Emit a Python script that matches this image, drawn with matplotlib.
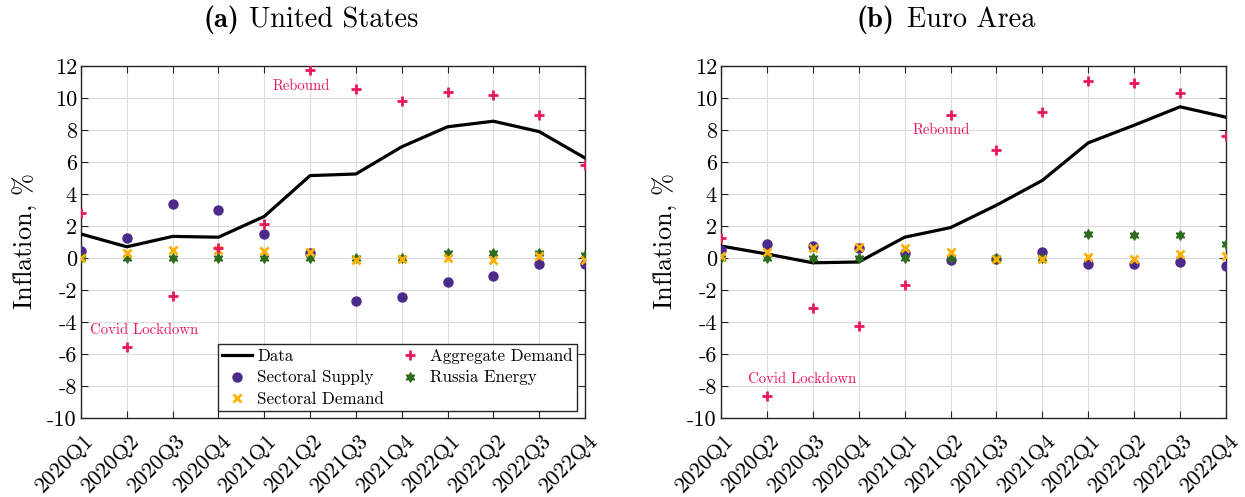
import numpy as np
import matplotlib
matplotlib.use("Agg")
import matplotlib.pyplot as plt
from matplotlib.transforms import ScaledTranslation

plt.rcParams["font.family"] = ["cmr10", "DejaVu Serif"]
plt.rcParams["mathtext.fontset"] = "cm"
plt.rcParams["axes.unicode_minus"] = False
plt.rcParams["axes.formatter.use_mathtext"] = False

quarters = ["2020Q1", "2020Q2", "2020Q3", "2020Q4",
            "2021Q1", "2021Q2", "2021Q3", "2021Q4",
            "2022Q1", "2022Q2", "2022Q3", "2022Q4"]

# United States
us_data = [1.5, 0.7, 1.35, 1.3, 2.6, 5.15, 5.25, 6.95, 8.2, 8.55, 7.9, 6.25]
us_agg_demand = [2.8, -5.55, -2.35, 0.6, 2.1, 11.75, 10.55, 9.8, 10.35, 10.2, 8.95, 5.8]
us_sec_supply = [0.45, 1.25, 3.4, 3.0, 1.5, 0.3, -2.7, -2.45, -1.5, -1.15, -0.4, -0.35]
us_sec_demand = [0.0, 0.3, 0.5, 0.5, 0.45, 0.35, -0.1, -0.05, 0.0, -0.1, 0.15, -0.1]
us_russia = [0.0, 0.0, 0.0, 0.0, 0.0, 0.0, 0.0, 0.0, 0.3, 0.3, 0.3, 0.2]

# Euro Area
ea_data = [0.75, 0.25, -0.3, -0.25, 1.3, 1.9, 3.3, 4.85, 7.2, 8.3, 9.45, 8.8]
ea_agg_demand = [1.25, -8.65, -3.1, -4.25, -1.7, 8.95, 6.75, 9.15, 11.05, 10.95, 10.3, 7.65]
ea_sec_supply = [0.5, 0.9, 0.75, 0.65, 0.3, -0.1, -0.05, 0.35, -0.35, -0.4, -0.25, -0.5]
ea_sec_demand = [0.1, 0.35, 0.65, 0.7, 0.6, 0.4, -0.05, -0.05, 0.05, -0.05, 0.25, 0.15]
ea_russia = [0.0, 0.0, 0.0, 0.0, 0.0, 0.0, 0.0, 0.0, 1.5, 1.45, 1.45, 0.85]

purple = "#4b2a8c"
red = "#e8185a"
yellow = "#ffb000"
green = "#2d6a1e"


def draw_panel(ax, data, agg, supply, demand, russia, notes, legend=False):
    x = np.arange(len(quarters))
    h_data, = ax.plot(x, data, color="black", lw=2.3, label="Data", zorder=3)
    h_ss, = ax.plot(x, supply, "o", color=purple, ms=6.5, ls="none",
                    label="Sectoral Supply", zorder=4)
    h_sd, = ax.plot(x, demand, "x", color=yellow, ms=5.5, mew=2, ls="none",
                    label="Sectoral Demand", zorder=5)
    h_ad, = ax.plot(x, agg, "+", color=red, ms=7, mew=2, ls="none",
                    label="Aggregate Demand", zorder=5)
    h_re, = ax.plot(x, russia, marker=(6, 1, 0), color=green, ms=7, ls="none",
                    label="Russia Energy", zorder=4)

    for (tx, ty, txt) in notes:
        ax.text(tx, ty, txt, color=red, fontsize=10.6, ha="left", va="center")

    ax.set_xlim(0, len(quarters) - 1)
    ax.set_ylim(-10, 12)
    ax.set_yticks(np.arange(-10, 13, 2))
    ax.set_xticks(x)
    ax.set_xticklabels(quarters, rotation=45, ha="right", va="top",
                       rotation_mode="anchor", fontsize=15.5)
    ax.tick_params(direction="in", length=5, top=True, right=True,
                   labelsize=16, colors="#262626", labelcolor="black")
    ax.tick_params(axis="y", pad=3)
    ax.tick_params(axis="x", pad=9)
    shift = ScaledTranslation(2 / 72, 0, ax.figure.dpi_scale_trans)
    for lab in ax.get_xticklabels():
        lab.set_transform(lab.get_transform() + shift)
    ax.grid(True, color="#dcdcdc", lw=0.8)
    ax.set_axisbelow(True)
    for sp in ax.spines.values():
        sp.set_color("#262626")
        sp.set_linewidth(1.0)
    ax.set_ylabel(r"Inflation, $\%$", fontsize=19, labelpad=6)

    if legend:
        ax.legend(handles=[h_data, h_ss, h_sd, h_ad, h_re], ncol=2,
                  loc="lower right", bbox_to_anchor=(0.984, 0.02),
                  fontsize=12.2, frameon=True, fancybox=False, edgecolor="#262626",
                  handlelength=1.8, handletextpad=0.3, columnspacing=0.6,
                  labelspacing=0.35, borderpad=0.25, borderaxespad=0, framealpha=1)


W, H = 1245, 497
fig = plt.figure(figsize=(W / 100, H / 100), dpi=100)
ax1 = fig.add_axes([81 / W, 1 - 418 / H, 504 / W, 352 / H])
ax2 = fig.add_axes([721 / W, 1 - 418 / H, 505 / W, 352 / H])

draw_panel(ax1, us_data, us_agg_demand, us_sec_supply, us_sec_demand, us_russia,
           [(4.19, 10.75, "Rebound"), (0.2, -4.5, "Covid Lockdown")], legend=True)
draw_panel(ax2, ea_data, ea_agg_demand, ea_sec_supply, ea_sec_demand, ea_russia,
           [(4.17, 8.0, "Rebound"), (0.59, -7.6, "Covid Lockdown")])

# panel titles: bold tag + regular name
for tag, name, x_tag, x_name in [("(a)", "United States", 239, 249),
                                 ("(b)", "Euro Area", 894, 907)]:
    fig.text(x_tag / W, 1 - 27 / H, tag, family="cmb10", fontsize=20.4,
             ha="right", va="baseline")
    fig.text(x_name / W, 1 - 27 / H, name, fontsize=20.4, ha="left", va="baseline")

fig.savefig("out.png", dpi=100)
